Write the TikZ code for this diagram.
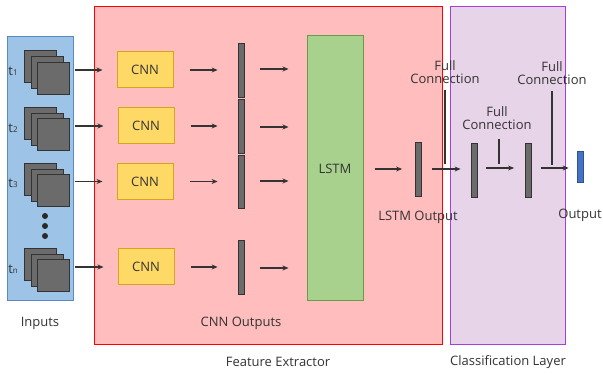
\documentclass[tikz,border=0pt]{standalone}
\usepackage{fontspec}
\setmainfont{Open Sans}
\usetikzlibrary{arrows.meta}
\definecolor{txt}{HTML}{333333}
\definecolor{barg}{HTML}{6B6B6B}
\definecolor{redfill}{HTML}{FFBDBD}
\definecolor{purfill}{HTML}{E8D4E8}
\definecolor{purline}{HTML}{A93BE0}
\definecolor{cnnfill}{HTML}{FFD966}
\definecolor{cnnline}{HTML}{D6A520}
\definecolor{lstmfill}{HTML}{A9D18E}
\definecolor{lstmline}{HTML}{6C9A4C}
\definecolor{infill}{HTML}{9DC3E6}
\definecolor{inline}{HTML}{5A8AC6}
\definecolor{outfill}{HTML}{4472C4}
\definecolor{outline}{HTML}{2F528F}
\newcommand{\tsub}[1]{t{\fontsize{8}{9}\selectfont #1}}
\begin{document}
\begin{tikzpicture}[x=1pt,y=-1pt,
  font=\fontsize{13}{15.5}\selectfont, text=txt,
  arr/.style={-{Stealth[length=6pt,width=5pt]}, line width=1.3pt, draw=txt},
  fcline/.style={line width=1.3pt, draw=txt},
  bar/.style={draw=txt, fill=barg, line width=0.8pt, minimum width=6pt, inner sep=0pt},
  frame/.style={draw=txt, fill=barg, line width=0.8pt, minimum width=32pt, minimum height=32pt, inner sep=0pt},
  cnn/.style={draw=cnnline, fill=cnnfill, line width=1pt, minimum width=56pt, minimum height=36pt, inner sep=0pt},
  lbl/.style={inner sep=0pt, align=center}]
\useasboundingbox (0,0) rectangle (603,374);
% big regions
\node[draw=inline, fill=infill, line width=1pt, minimum width=66pt, minimum height=264pt, inner sep=0pt] (inp) at (40,168.5) {};
\node[draw=red, fill=redfill, line width=1pt, minimum width=348pt, minimum height=338pt, inner sep=0pt] (fe) at (268,176) {};
\node[draw=purline, fill=purfill, line width=1pt, minimum width=115pt, minimum height=338pt, inner sep=0pt] (cl) at (507.5,176) {};
% input frames
\foreach \i/\yb in {1/66.7, 2/123, 3/179, n/264}{
  \node[frame] (b\i) at (40.5,\yb) {};
  \node[frame] (m\i) at (47,\yb+6) {};
  \node[frame] (f\i) at (53.5,\yb+11.3) {};
}
\node[lbl] (t1) at (13,71) {\tsub{1}};
\node[lbl] (t2) at (13,128) {\tsub{2}};
\node[lbl] (t3) at (13,183) {\tsub{3}};
\node[lbl] (tn) at (13,269) {\tsub{n}};
\foreach \k/\yy in {1/216,2/226,3/236}{\fill[txt!80!black] (45,\yy) circle (3pt);}
% CNNs
\node[cnn] (c1) at (145,70) {CNN};
\node[cnn] (c2) at (146,126) {CNN};
\node[cnn] (c3) at (145,181.5) {CNN};
\node[cnn] (cn) at (146,267) {CNN};
% CNN output bars
\node[bar, minimum height=54pt] (o1) at (241,70) {};
\node[bar, minimum height=54pt] (o2) at (241,126) {};
\node[bar, minimum height=53pt] (o3) at (241,181.5) {};
\node[bar, minimum height=54pt] (on) at (241,267) {};
% LSTM
\node[draw=lstmline, fill=lstmfill, line width=1pt, minimum width=56pt, minimum height=265pt, inner sep=0pt] (lstm) at (335,168.5) {LSTM};
\node[bar, minimum height=54pt] (lo) at (418.5,169) {};
\node[bar, minimum height=54pt] (h1) at (474,170) {};
\node[bar, minimum height=54pt] (h2) at (528.5,170) {};
\node[draw=outline, fill=outfill, line width=0.8pt, minimum width=6pt, minimum height=31pt, inner sep=0pt] (out) at (580,166.5) {};
% arrows input -> CNN
\foreach \i/\c in {1/c1,2/c2,3/c3,n/cn}{
  \draw[arr, shorten <=5pt, shorten >=14pt] (f\i.east |- \c.west) -- (\c.west);
}
% CNN -> bars
\foreach \c/\o in {c1/o1,c2/o2,c3/o3,cn/on}{
  \draw[arr, shorten <=16pt, shorten >=20pt] (\c.east) -- (\o.west |- \c.east);
}
% bars -> LSTM
\foreach \o/\yy in {o1/69,o2/127,o3/181,on/268}{
  \draw[arr, shorten <=16pt, shorten >=18pt] (\o.east |- 0,\yy) -- (lstm.west |- 0,\yy);
}
\draw[arr, shorten <=11pt, shorten >=13pt] (lstm.east |- lo.west) -- (lo.west);
\draw[arr, shorten <=10pt, shorten >=10pt] (lo.east) -- (h1.west |- lo.east);
\draw[arr, shorten <=9pt, shorten >=11pt] (h1.east |- 0,168) -- (h2.west |- 0,168);
\draw[arr, shorten <=9pt, shorten >=8pt] (h2.east |- 0,168) -- (out.west |- 0,168);
% full connection lines
\coordinate (fc1a) at (445,90); \coordinate (fc1b) at (445,164);
\coordinate (fc2a) at (499,139); \coordinate (fc2b) at (499,164);
\coordinate (fc3a) at (552,91); \coordinate (fc3b) at (552,165);
\draw[fcline] (fc1a) -- (fc1b);
\draw[fcline] (fc2a) -- (fc2b);
\draw[fcline] (fc3a) -- (fc3b);
\node[lbl] (fcl1) at (445,72) {Full\\[-2pt]Connection};
\node[lbl] (fcl2) at (497,118) {Full\\[-2pt]Connection};
\node[lbl] (fcl3) at (552,73) {Full\\[-2pt]Connection};
% labels
\node[lbl] (linp) at (40,323) {Inputs};
\node[lbl] (lcnn) at (241,323) {CNN Outputs};
\node[lbl] (llo) at (418,217) {LSTM Output};
\node[lbl] (lout) at (580,215) {Output};
\node[lbl] (lfe) at (278,362) {Feature Extractor};
\node[lbl] (lcl) at (508,362) {Classification Layer};
\end{tikzpicture}
\end{document}
